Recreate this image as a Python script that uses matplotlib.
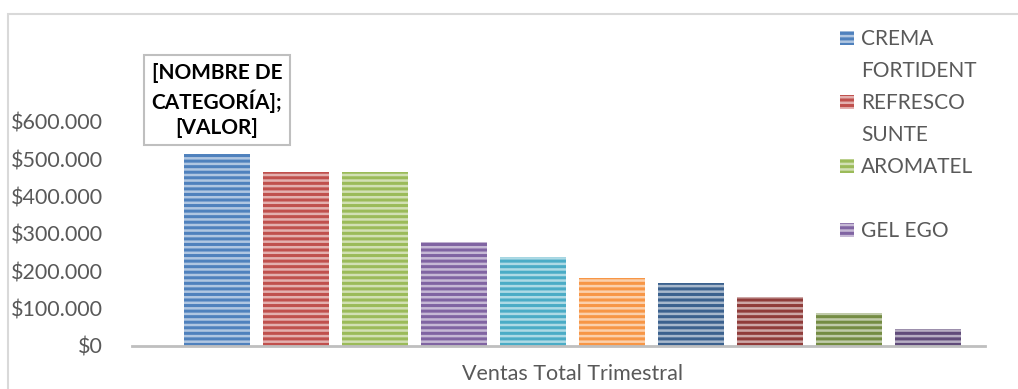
import matplotlib.pyplot as plt
from matplotlib.patches import Patch, Rectangle
from matplotlib.colors import to_rgb

plt.rcParams['font.family'] = ['Lato', 'DejaVu Sans']
plt.rcParams['hatch.linewidth'] = 1.8

# Set data
category = 'Ventas Total Trimestral'
series = ['CREMA FORTIDENT', 'REFRESCO SUNTE', 'AROMATEL', 'GEL EGO',
          'S5', 'S6', 'S7', 'S8', 'S9', 'S10']
values = [513000, 465000, 465000, 277000, 237000, 180000, 167000, 131000, 87000, 44000]
colors = ['#4F81BD', '#C0504D', '#9BBB59', '#8064A2', '#4BACC6',
          '#F79646', '#3B618E', '#903C3A', '#748C43', '#604B7A']
yticks = [0, 100000, 200000, 300000, 400000, 500000, 600000]
ytick_labels = ['$0', '$100.000', '$200.000', '$300.000', '$400.000', '$500.000', '$600.000']
# legend only shows the first four series, wrapped as in the original
legend_lines = [['CREMA', 'FORTIDENT'], ['REFRESCO', 'SUNTE'], ['AROMATEL', ' '], ['GEL EGO']]
data_label = '[NOMBRE DE\nCATEGORÍA];\n[VALOR]'

text_col = '#595959'


def lighter(c, f=0.55):
    r, g, b = to_rgb(c)
    return (r + (1 - r) * f, g + (1 - g) * f, b + (1 - b) * f)


W, H = 1018, 389
fig = plt.figure(figsize=(W / 100, H / 100), dpi=100)
ax = fig.add_axes([132 / W, (H - 345.5) / H, 853 / W, 223.5 / H])

x = list(range(len(values)))
ax.bar(x, values, width=0.835, color=colors, lw=0, zorder=2)
ax.bar(x, values, width=0.835, color='none', edgecolor=[lighter(c) for c in colors],
       hatch='---', lw=0, zorder=3)

ax.set_xlim(-1.076, 9.72)
ax.set_ylim(0, 600000)
ax.set_yticks(yticks, ytick_labels)
ax.set_xticks([4.5], [category])
ax.tick_params(axis='y', length=0, pad=21, labelsize=15.5, labelcolor=text_col)
ax.tick_params(axis='x', length=0, pad=13, labelsize=15.5, labelcolor=text_col)
for s in ['top', 'right', 'left']:
    ax.spines[s].set_visible(False)
ax.spines['bottom'].set_color('#BFBFBF')
ax.spines['bottom'].set_linewidth(2)
ax.spines['bottom'].set_zorder(4)

# data label on the first bar
ax.annotate(data_label, xy=(0, values[0]), xytext=(0, 12), textcoords='offset points',
            ha='center', va='bottom', fontsize=15, fontweight='bold', color='black',
            linespacing=1.32,
            bbox=dict(boxstyle='square,pad=0.36', fc='white', ec='#BFBFBF', lw=1.5))

# legend
handles, labels = [], []
for i, lines in enumerate(legend_lines):
    for j, line in enumerate(lines):
        if j == 0:
            handles.append(Patch(facecolor=colors[i], edgecolor=lighter(colors[i]),
                                 hatch='---', lw=0))
        else:
            handles.append(Patch(facecolor='none', edgecolor='none', lw=0))
        labels.append(line)
fig.legend(handles, labels, loc='upper left', bbox_to_anchor=(840 / W, 1 - 29 / H),
           frameon=False, fontsize=15, labelcolor=text_col, handlelength=0.65,
           handleheight=0.65, handletextpad=0.35, labelspacing=0.58,
           borderpad=0, borderaxespad=0)

# chart area border
fig.add_artist(Rectangle((8 / W, -0.1), 1.2, (H - 14) / H + 0.1, transform=fig.transFigure,
                         fill=False, edgecolor='#D9D9D9', lw=1.5))

plt.savefig('out.png', dpi=100)
